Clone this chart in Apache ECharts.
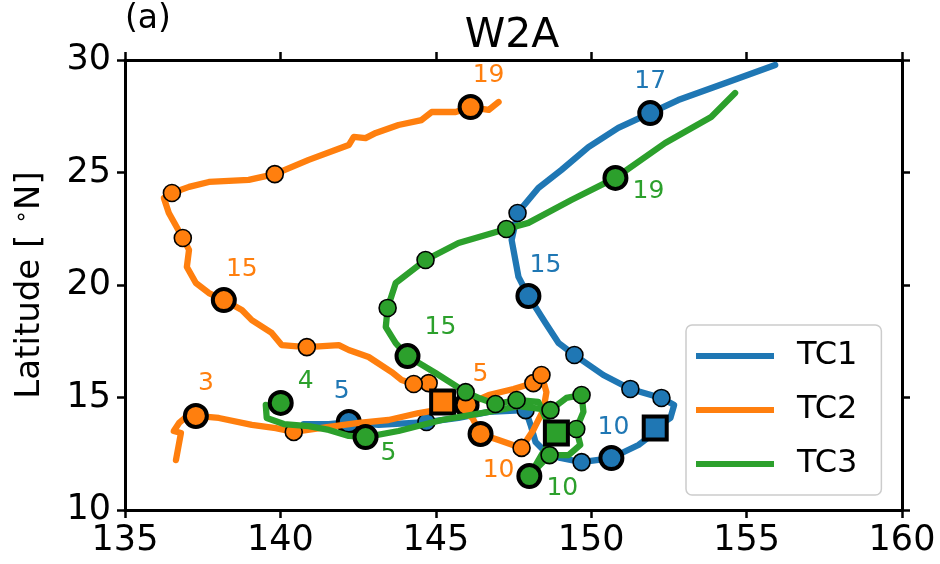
<!DOCTYPE html>
<html>
<head>
<meta charset="utf-8">
<script src="https://cdn.jsdelivr.net/npm/echarts@6/dist/echarts.min.js"></script>
<style>
  html, body { margin: 0; padding: 0; background: #fff; }
  #chart { width: 940px; height: 564px; }
</style>
</head>
<body>
<div id="chart"></div>
<script>
// Track names and colours
const tcNames = ['TC1', 'TC2', 'TC3'];
const tcColors = ['#1f77b4', '#ff7f0e', '#2ca02c'];

// Axis ticks
const lonTicks = [135, 140, 145, 150, 155, 160];
const latTicks = [10, 15, 20, 25, 30];

// TC1 track [lon, lat]
const tc1Track = [
  [140.75, 13.82], [141.56, 13.82], [142.20, 13.91], [143.16, 13.78], [144.70, 13.91],
  [145.73, 14.09], [146.70, 14.36], [147.89, 14.44], [148.05, 13.78], [148.21, 13.02],
  [148.56, 12.53], [149.01, 12.31], [149.69, 12.13], [150.65, 12.31], [151.52, 12.89],
  [151.90, 13.29], [152.06, 13.64], [152.55, 14.09], [152.67, 14.67], [152.26, 14.98],
  [151.26, 15.38], [150.39, 16.00], [149.46, 16.89], [148.95, 17.42], [148.53, 18.31],
  [147.98, 19.51], [147.66, 20.36], [147.44, 22.00], [147.63, 23.20], [148.30, 24.31],
  [149.04, 25.11], [149.91, 26.13], [150.87, 26.98], [151.90, 27.64], [152.80, 28.22],
  [154.41, 29.02], [155.92, 29.78]
];
// TC1 daily positions [lon, lat, day]
const tc1Days = [
  [142.20, 13.91, 5], [144.70, 13.91, 6], [147.89, 14.44, 7], [149.69, 12.13, 9],
  [150.65, 12.31, 10], [152.26, 14.98, 12], [151.26, 15.38, 13], [149.46, 16.89, 14],
  [147.98, 19.51, 15], [147.63, 23.20, 16], [151.90, 27.64, 17]
];
const tc1Labelled = [5, 10, 15, 17];
const tc1Square = [152.06, 13.64];

// TC2 track [lon, lat]
const tc2Track = [
  [136.64, 12.22], [136.80, 13.42], [136.57, 13.51], [136.74, 13.87], [136.96, 14.13],
  [137.28, 14.18], [138.02, 14.09], [139.08, 13.78], [139.85, 13.64], [140.43, 13.47],
  [141.56, 13.69], [142.52, 13.87], [143.48, 14.00], [144.45, 14.31], [145.25, 14.49],
  [145.99, 14.67], [146.70, 15.11], [147.50, 15.38], [148.14, 15.64], [148.40, 16.00],
  [148.56, 15.24], [148.46, 14.44], [148.14, 13.56], [147.76, 12.76], [147.02, 13.11],
  [146.44, 13.38], [146.18, 14.09], [145.73, 14.53], [145.22, 14.80], [144.77, 15.64],
  [144.29, 15.60], [143.90, 15.78], [143.58, 16.13], [142.84, 16.80], [142.20, 17.11],
  [141.88, 17.33], [140.85, 17.24], [140.04, 17.33], [139.72, 17.87], [139.08, 18.44],
  [138.76, 18.89], [138.18, 19.33], [137.70, 19.64], [137.28, 20.09], [136.99, 20.80],
  [137.06, 21.56], [136.86, 22.09], [136.41, 23.20], [136.25, 23.87], [136.51, 24.09],
  [137.06, 24.36], [137.70, 24.58], [138.98, 24.67], [139.82, 24.93], [140.91, 25.56],
  [142.20, 26.22], [142.36, 26.58], [142.74, 26.53], [143.07, 26.76], [143.80, 27.11],
  [144.54, 27.33], [144.87, 27.69], [145.64, 27.69], [146.12, 27.91], [146.70, 27.78],
  [147.02, 28.13]
];
// TC2 daily positions [lon, lat, day]
const tc2Days = [
  [137.28, 14.18, 3], [140.43, 13.47, 4], [145.99, 14.67, 5], [148.14, 15.64, 6],
  [148.40, 16.00, 7], [147.76, 12.76, 9], [146.44, 13.38, 10], [144.77, 15.64, 12],
  [144.29, 15.60, 13], [140.85, 17.24, 14], [138.18, 19.33, 15], [136.86, 22.09, 16],
  [136.51, 24.09, 17], [139.82, 24.93, 18], [146.12, 27.91, 19]
];
const tc2Labelled = [3, 5, 10, 15, 19];
const tc2Square = [145.22, 14.80];

// TC3 track [lon, lat]
const tc3Track = [
  [139.53, 14.67], [139.56, 14.09], [140.11, 13.82], [140.91, 13.73], [141.56, 13.56],
  [142.20, 13.29], [142.74, 13.24], [143.80, 13.51], [145.19, 14.00], [146.70, 14.36],
  [147.66, 14.62], [148.69, 14.44], [149.20, 14.98], [149.69, 15.11], [149.75, 14.36],
  [149.52, 13.60], [149.65, 12.89], [149.27, 12.44], [148.66, 12.44], [148.01, 11.51],
  [148.46, 12.58], [148.88, 13.42], [148.56, 14.00], [148.30, 14.80], [147.60, 14.89],
  [146.92, 14.71], [146.38, 14.98], [145.96, 15.24], [144.99, 16.09], [144.09, 16.84],
  [143.71, 17.42], [143.39, 18.13], [143.45, 18.98], [143.71, 20.09], [144.67, 21.11],
  [145.73, 21.87], [147.27, 22.49], [147.98, 22.76], [149.36, 23.78], [150.78, 24.76],
  [152.38, 26.31], [153.86, 27.47], [154.63, 28.53]
];
// TC3 daily positions [lon, lat, day]
const tc3Days = [
  [140.01, 14.76, 4], [142.74, 13.24, 5], [148.69, 14.44, 6], [149.69, 15.11, 7],
  [149.52, 13.60, 8], [148.66, 12.44, 9], [148.01, 11.51, 10], [147.60, 14.89, 12],
  [146.92, 14.71, 13], [145.96, 15.24, 14], [144.09, 16.84, 15], [143.45, 18.98, 16],
  [144.67, 21.11, 17], [147.27, 22.49, 18], [150.78, 24.76, 19]
];
const tc3Labelled = [4, 5, 10, 15, 19];
const tc3Square = [148.88, 13.42];

// Where each day number sits relative to its marker (pixels)
const labelShift = {
  TC1: { 5: [-7, -31], 10: [2, -31], 15: [17, -31], 17: [0, -32] },
  TC2: { 3: [10, -32], 5: [14, -30], 10: [18, 37], 15: [18, -31], 19: [18, -32] },
  TC3: { 4: [25, -21], 5: [23, 16], 10: [33, 12], 15: [33, -29], 19: [33, 14] }
};

const FONT = 'DejaVu Sans';
const tracks = [tc1Track, tc2Track, tc3Track];
const days = [tc1Days, tc2Days, tc3Days];
const labelled = [tc1Labelled, tc2Labelled, tc3Labelled];
const squares = [tc1Square, tc2Square, tc3Square];

const series = [];
tcNames.forEach((name, i) => {
  const color = tcColors[i];
  const base = 2 + i * 3;
  series.push({
    name: name, type: 'line', data: tracks[i], showSymbol: false,
    lineStyle: { width: 6.3, color: color, join: 'round', cap: 'round' },
    itemStyle: { color: color }, z: base, silent: true
  });
  series.push({
    name: name + ' daily', type: 'scatter', z: base + 1, silent: true,
    data: days[i].filter(d => labelled[i].indexOf(d[2]) < 0),
    symbolSize: 17,
    itemStyle: { color: color, borderColor: '#000', borderWidth: 1.6, opacity: 1 }
  });
  series.push({
    name: name + ' labelled', type: 'scatter', z: base + 1, silent: true,
    data: days[i].filter(d => labelled[i].indexOf(d[2]) >= 0).map(d => ({
      value: d,
      label: { offset: labelShift[name][d[2]] }
    })),
    symbolSize: 22,
    itemStyle: { color: color, borderColor: '#000', borderWidth: 4, opacity: 1 },
    label: {
      show: true, position: 'inside', formatter: p => String(p.value[2]),
      color: color, fontSize: 25, fontFamily: FONT
    }
  });
  series.push({
    name: name + ' square', type: 'scatter', z: base + 1, silent: true,
    data: [squares[i]], symbol: 'rect', symbolSize: 23,
    itemStyle: { color: color, borderColor: '#000', borderWidth: 4, opacity: 1 }
  });
});

const axisCommon = {
  type: 'value', splitLine: { show: false },
  axisLine: { show: true, onZero: false, lineStyle: { color: '#000', width: 3 } },
  axisTick: { show: true, inside: false, length: 8, lineStyle: { color: '#000', width: 2.5 } }
};

const option = {
  animation: false,
  backgroundColor: '#fff',
  grid: { left: 125, right: 38, top: 60, bottom: 54, containLabel: false },
  xAxis: [
    Object.assign({}, axisCommon, {
      position: 'bottom', min: lonTicks[0], max: lonTicks[lonTicks.length - 1], interval: 5,
      axisLabel: { color: '#000', fontSize: 35, fontFamily: FONT, margin: 13 }
    }),
    Object.assign({}, axisCommon, {
      position: 'top', min: lonTicks[0], max: lonTicks[lonTicks.length - 1], interval: 5,
      axisLabel: { show: false }
    })
  ],
  yAxis: [
    Object.assign({}, axisCommon, {
      position: 'left', min: latTicks[0], max: latTicks[latTicks.length - 1], interval: 5,
      axisLabel: { color: '#000', fontSize: 35, fontFamily: FONT, margin: 14 },
      name: 'Latitude [ {deg|∘}N]', nameLocation: 'middle', nameGap: 76, nameRotate: 90,
      nameTextStyle: {
        color: '#000', fontSize: 34, fontFamily: FONT,
        rich: { deg: { fontSize: 22, fontFamily: FONT, color: '#000', verticalAlign: 'top', padding: [0, 0, 16, 0] } }
      }
    }),
    Object.assign({}, axisCommon, {
      position: 'right', min: latTicks[0], max: latTicks[latTicks.length - 1], interval: 5,
      axisLabel: { show: false }
    })
  ],
  legend: {
    orient: 'vertical', left: 686, top: 325,
    data: tcNames.map((n, i) => ({ name: n, itemStyle: { color: tcColors[i] } })),
    icon: 'rect', itemWidth: 78, itemHeight: 6, itemGap: 22,
    textStyle: { color: '#000', fontSize: 32, fontFamily: FONT, padding: [0, 0, 0, 18] },
    padding: [15, 24, 15, 10],
    backgroundColor: '#fff', borderColor: '#cccccc', borderWidth: 1.5, borderRadius: 6,
    selectedMode: false
  },
  graphic: [
    { type: 'text', left: 125, top: 3, style: { text: '(a)', font: '33px "DejaVu Sans"', fill: '#000' } },
    { type: 'text', x: 512, y: 36, style: { text: 'W2A', font: '41px "DejaVu Sans"', fill: '#000', textAlign: 'center', textVerticalAlign: 'middle' } }
  ],
  series: series
};

const chart = echarts.init(document.getElementById('chart'), null, { renderer: 'canvas' });
chart.setOption(option);
</script>
</body>
</html>
